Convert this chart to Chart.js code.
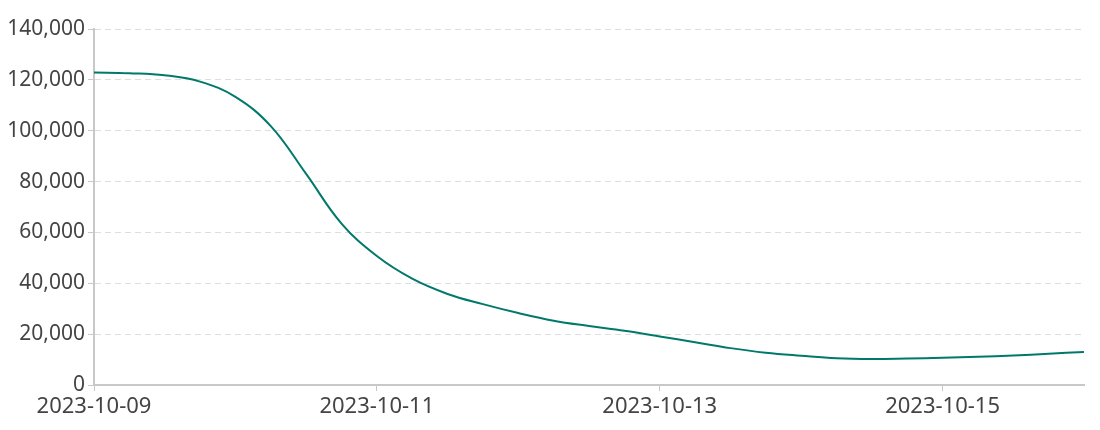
<!DOCTYPE html>
<html>
<head>
<meta charset="utf-8">
<script src="https://cdn.jsdelivr.net/npm/chart.js@4"></script>
<style>
  html, body { margin: 0; padding: 0; background: #fff; }
  #wrap { width: 1100px; height: 430px; }
</style>
</head>
<body>
<div id="wrap"><canvas id="chart" width="1100" height="430"></canvas></div>
<script>
// hours since 2023-10-09 00:00, every 6 hours
const hours = [
    0, 6, 12, 18, 24, 30, 36, 42, 48, 54, 60, 66, 72, 78, 84,
    90, 96, 102, 108, 114, 120, 126, 132, 138, 144, 150, 156, 162, 168
];

const values = [
    122900, 122600, 121800, 119300, 113300, 101800, 83000, 63500, 50700,
    41800, 35800, 31800, 28300, 25300, 23200, 21300, 19100, 16800, 14500,
    12700, 11500, 10500, 10200, 10400, 10700, 11100, 11600, 12300, 13000
];

const tickHours = [0, 48, 96, 144];
const tickLabels = ['2023-10-09', '2023-10-11', '2023-10-13', '2023-10-15'];

const yTicks = [0, 20000, 40000, 60000, 80000, 100000, 120000, 140000];

const font = "'Noto Sans', sans-serif";

const ctx =
    document.getElementById(
        'chart'
    );

new Chart(
    ctx,
    {
        type: 'line',
        data: {
            datasets: [
                {
                    data: hours.map(
                        (h, i) => ({ x: h, y: values[i] })
                    ),
                    borderColor: '#00796b',
                    borderWidth: 2,
                    pointRadius: 0,
                    fill: false,
                    tension: 0.4
                }
            ]
        },
        options: {
            responsive: false,
            animation: false,
            layout: {
                padding: { top: 29, right: 16, left: 0, bottom: 0 }
            },
            plugins: {
                legend: { display: false },
                tooltip: { enabled: false }
            },
            scales: {
                x: {
                    type: 'linear',
                    min: 0,
                    max: 168,
                    afterBuildTicks: scale => {
                        scale.ticks = tickHours.map(v => ({ value: v }));
                    },
                    afterFit: scale => {
                        scale.height = 45;
                    },
                    ticks: {
                        autoSkip: false,
                        maxRotation: 0,
                        padding: 3,
                        color: '#444',
                        font: { family: font, size: 22 },
                        callback: value => {
                            const i = tickHours.indexOf(value);
                            return i >= 0 ? tickLabels[i] : '';
                        }
                    },
                    grid: {
                        drawOnChartArea: false,
                        color: '#c8c8c8',
                        tickLength: 6
                    },
                    border: {
                        color: '#c8c8c8',
                        width: 2
                    }
                },
                y: {
                    min: 0,
                    max: 140000,
                    afterBuildTicks: scale => {
                        scale.ticks = yTicks.map(v => ({ value: v }));
                    },
                    afterFit: scale => {
                        scale.width = 94;
                    },
                    ticks: {
                        padding: 3,
                        color: '#444',
                        font: { family: font, size: 21 },
                        callback: value => value.toLocaleString('en-US')
                    },
                    grid: {
                        color: '#dedede',
                        tickColor: '#c8c8c8',
                        tickBorderDash: [],
                        tickLength: 6
                    },
                    border: {
                        color: '#c8c8c8',
                        width: 2,
                        dash: [6, 4]
                    }
                }
            }
        }
    }
);
</script>
</body>
</html>
